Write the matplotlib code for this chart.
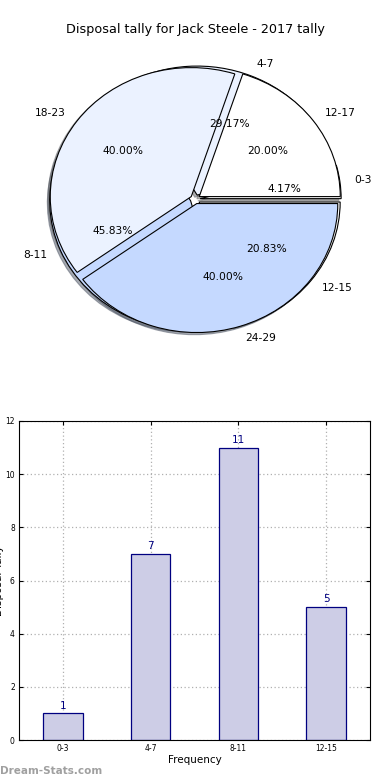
import matplotlib
matplotlib.use("Agg")
import matplotlib.pyplot as plt

title = "Disposal tally for Jack Steele - 2017 tally"
freq_labels = ["0-3", "4-7", "8-11", "12-15"]
freq_values = [1, 7, 11, 5]
tally_labels = ["12-17", "18-23", "24-29"]
tally_values = [1, 2, 2]

pie_colors = ["white", "#ebf2ff", "#c5d9ff"]

fig = plt.figure(figsize=(3.9, 7.8), dpi=100)
fig.text(0.5, 1 - 30 / 780, title, ha="center", va="center", fontsize=9.2)

ax1 = fig.add_axes([19 / 390, 419.5 / 780, 352.5 / 390, 322.5 / 780])
wedgeprops = dict(edgecolor="black", linewidth=0.8)
shadow = dict(ox=-0.012, oy=-0.012, shade=0.6)
ax1.pie(freq_values, labels=freq_labels, autopct="%.2f%%", shadow=shadow,
        colors=pie_colors + ["white"], startangle=0, counterclock=True,
        explode=[0.035] * 4,
        wedgeprops=wedgeprops, textprops=dict(fontsize=7.7))
ax1.pie(tally_values, labels=tally_labels, autopct="%.2f%%", shadow=shadow,
        colors=pie_colors, startangle=0, explode=[0.035] * 3,
        wedgeprops=wedgeprops, textprops=dict(fontsize=7.7))
ax1.set_aspect("auto")
ax1.set_xlim(-1.25, 1.25)
ax1.set_ylim(-1.25, 1.25)
ax1.axis("off")

ax2 = fig.add_axes([19 / 390, 40 / 780, 351 / 390, 319 / 780])
x = list(range(len(freq_labels)))
ax2.bar(x, freq_values, width=0.45, color="#cdcde6", edgecolor="#000080",
        linewidth=0.9, zorder=2)
for xi, v in zip(x, freq_values):
    ax2.text(xi, v + 0.1, str(v), ha="center", va="bottom", color="#000080",
             fontsize=7.5)
ax2.set_xlim(-0.5, 3.5)
ax2.set_ylim(0, 12)
ax2.set_xticks(x)
ax2.set_xticklabels(freq_labels)
ax2.set_yticks(range(0, 13, 2))
ax2.tick_params(direction="in", top=True, right=True, labelsize=5.5,
                length=3, pad=3)
ax2.grid(True, linestyle=(0, (1, 2)), color="#b0b0b0", linewidth=0.9, zorder=0)
ax2.set_axisbelow(True)
ax2.set_xlabel("Frequency", fontsize=7.5, labelpad=1)
ax2.set_ylabel("Disposal Tally", fontsize=7.5, labelpad=1)

fig.text(0 / 390, 1 - 771 / 780, "Dream-Stats.com", ha="left", va="center",
         fontsize=7.5, color="#a0a0a0", fontweight="bold")

fig.savefig("out.png", dpi=100)
